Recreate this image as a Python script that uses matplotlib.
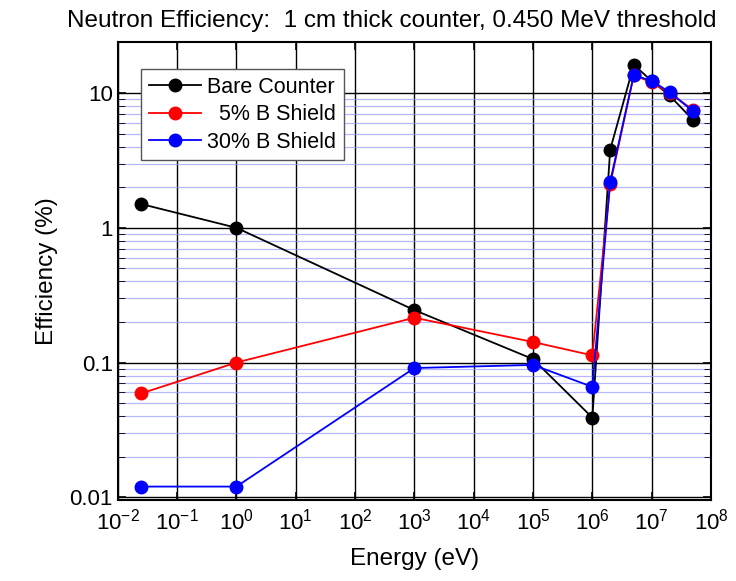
import matplotlib.pyplot as plt
from matplotlib.ticker import LogLocator, FixedLocator, NullFormatter

plt.rcParams['font.family'] = ['Liberation Sans', 'DejaVu Sans']

energy = [0.025, 1, 1e3, 1e5, 1e6, 2e6, 5e6, 1e7, 2e7, 5e7]
bare = [1.5, 1.0, 0.245, 0.106, 0.039, 3.8, 16.2, 12.3, 9.6, 6.3]
b5 = [0.059, 0.1, 0.215, 0.142, 0.113, 2.1, 13.6, 12.0, 10.0, 7.5]
b30 = [0.012, 0.012, 0.091, 0.096, 0.066, 2.2, 13.6, 12.3, 10.2, 7.3]

fig = plt.figure(figsize=(7.36, 5.81), dpi=100)
ax = fig.add_axes([0.160, 0.139, 0.806, 0.789])

ax.plot(energy, bare, '-o', color='black', ms=9, lw=1.3, label='Bare Counter', zorder=3)
ax.plot(energy, b5, '-o', color='red', ms=9, lw=1.3, label='  5% B Shield', zorder=4)
ax.plot(energy, b30, '-o', color='blue', ms=9, lw=1.3, label='30% B Shield', zorder=5)

ax.set_xscale('log')
ax.set_yscale('log')
ax.set_xlim(1e-2, 1e8)
ax.set_ylim(0.0095, 24)

ax.xaxis.set_major_locator(LogLocator(base=10, numticks=20))
ax.xaxis.set_minor_locator(FixedLocator([]))
ax.set_yticks([0.01, 0.1, 1, 10])
ax.set_yticklabels(['0.01', '0.1', '1', '10'])
minor_y = [m * d for d in (0.01, 0.1, 1) for m in range(2, 10)]
ax.yaxis.set_minor_locator(FixedLocator(minor_y))
ax.yaxis.set_minor_formatter(NullFormatter())

ax.grid(True, which='major', color='black', lw=1.0)
ax.grid(True, which='minor', axis='y', color='#9999ff', lw=0.9, alpha=0.7)
ax.set_axisbelow(True)

ax.tick_params(which='both', direction='in', right=True, top=True, labelsize=16)
ax.tick_params(which='major', length=6, width=1.2)
ax.tick_params(which='minor', length=5)
ax.tick_params(axis='x', pad=6)
for s in ax.spines.values():
    s.set_linewidth(1.5)

fig.text(392 / 736, 1 - 21 / 581, 'Neutron Efficiency:  1 cm thick counter, 0.450 MeV threshold',
         fontsize=17.5, ha='center', va='center')
ax.set_xlabel('Energy (eV)', fontsize=17.5, labelpad=10)
ax.set_ylabel('Efficiency (%)', fontsize=17.5, labelpad=8)

leg = ax.legend(loc='upper left', bbox_to_anchor=(0.04, 0.94), fontsize=15.5,
                frameon=True, fancybox=False, edgecolor='#555555', framealpha=1,
                handlelength=2.4, borderpad=0.35, labelspacing=0.3, handletextpad=0.3,
                borderaxespad=0)
leg.get_frame().set_linewidth(1.0)

fig.savefig('out.png', dpi=100)
